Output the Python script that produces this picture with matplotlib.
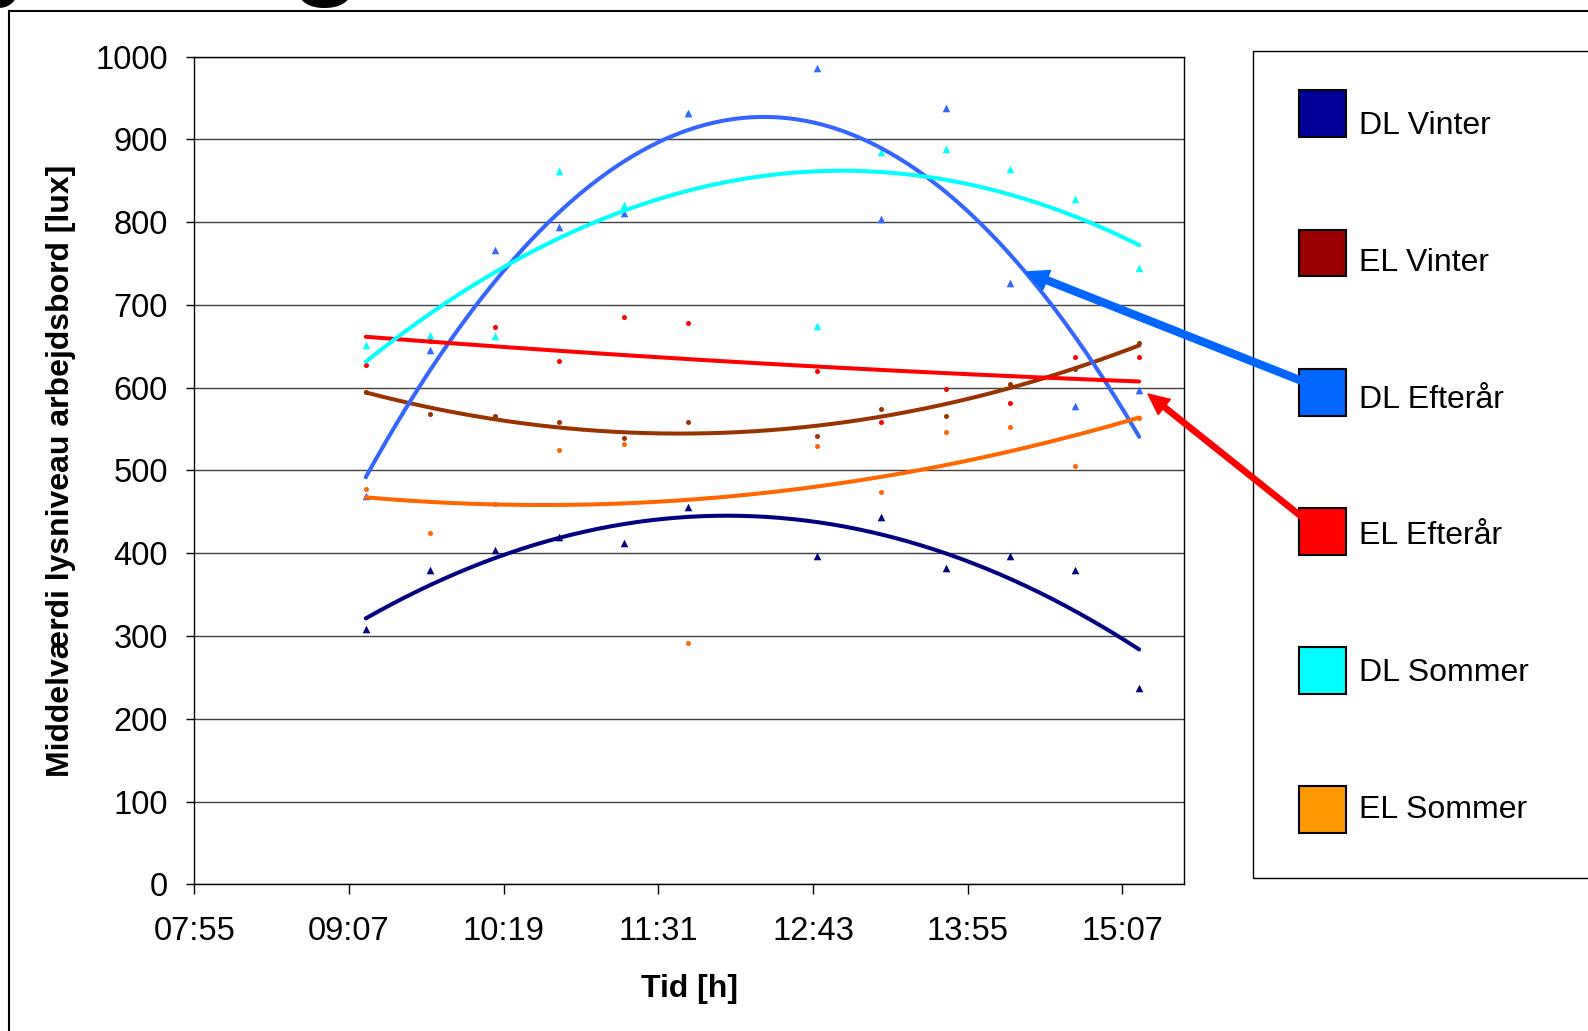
import numpy as np
import matplotlib
matplotlib.use("Agg")
import matplotlib.pyplot as plt
from matplotlib.patches import Rectangle
from matplotlib.lines import Line2D

plt.rcParams['font.family'] = ['Liberation Sans', 'DejaVu Sans']

# measurement times (hh:mm)
times = ["09:15", "09:45", "10:15", "10:45", "11:15", "11:45",
         "12:45", "13:15", "13:45", "14:15", "14:45", "15:15"]

# mean light level on the work table [lux]
dl_vinter = [309, 380, 404, 420, 412, 456, 397, 444, 382, 397, 380, 237]
el_vinter = [595, 568, 566, 558, 539, 559, 542, 574, 566, 605, 623, 654]
dl_efteraar = [469, 645, 767, 794, 811, 932, 986, 804, 938, 726, 578, 597]
el_efteraar = [627, 656, 673, 632, 686, 678, 620, 558, 598, 581, 637, 637]
dl_sommer = [652, 664, 662, 862, 821, 932, 675, 885, 889, 864, 828, 745]
el_sommer = [478, 425, 460, 525, 532, 292, 529, 474, 546, 552, 505, 563]

labels = ["DL Vinter", "EL Vinter", "DL Efterår", "EL Efterår", "DL Sommer", "EL Sommer"]
values = [dl_vinter, el_vinter, dl_efteraar, el_efteraar, dl_sommer, el_sommer]

# x axis in day fractions, like the spreadsheet
x_min_day, x_max_day, x_step_day = 0.33, 0.65, 0.05
xtick_labels = ["07:55", "09:07", "10:19", "11:31", "12:43", "13:55", "15:07"]

# styles
marker_kind = ["^", "o", "^", "o", "^", "o"]
marker_color = ["#000080", "#993300", "#3366FF", "#FF0000", "#00FFFF", "#FF6600"]
trend_color = ["#000080", "#993300", "#3366FF", "#FF0000", "#00FFFF", "#FF6600"]
legend_color = ["#000099", "#990000", "#0066FF", "#FF0000", "#00FFFF", "#FF9900"]
scatter_order = [0, 1, 3, 4, 5, 2]

W, H = 1588, 1031
fig = plt.figure(figsize=(W / 100, H / 100), dpi=100)
ax = fig.add_axes([194.3 / W, 1 - 884.3 / H, 990 / W, 827.6 / H])


def to_min(s):
    h, m = s.split(":")
    return int(h) * 60 + int(m)


t = np.array([to_min(s) for s in times], dtype=float)

for i in scatter_order:
    v = np.array(values[i], dtype=float)
    size = 30 if marker_kind[i] == "^" else 13
    ax.scatter(t, v, marker=marker_kind[i], s=size, color=marker_color[i],
               linewidths=0, zorder=3)

for i in range(len(labels)):
    v = np.array(values[i], dtype=float)
    coef = np.polyfit(t, v, 2)  # polynomial trendline, 2nd order
    tt = np.linspace(t[0], t[-1], 300)
    ax.plot(tt, np.polyval(coef, tt), color=trend_color[i], lw=2.9,
            solid_capstyle='round', zorder=4)

ax.set_xlim(x_min_day * 1440, x_max_day * 1440)
ax.set_ylim(0, 1000)
xt = np.arange(x_min_day, x_max_day - 1e-9, x_step_day)[:len(xtick_labels)] * 1440
ax.set_xticks(xt)
ax.set_xticklabels(xtick_labels)
ax.set_yticks(np.arange(0, 1001, 100))
ax.tick_params(axis='both', labelsize=23.5, direction='out', width=1, color='#000000')
ax.tick_params(axis='y', length=6, pad=13)
ax.tick_params(axis='x', length=7, pad=16)
for sp in ax.spines.values():
    sp.set_color('#000000')
    sp.set_linewidth(1.0)
ax.yaxis.grid(True, color='#404040', lw=1.0)
ax.set_axisbelow(True)

ax.set_xlabel("Tid [h]", fontsize=23, fontweight='bold')
ax.xaxis.label.set_va('center')
ax.xaxis.set_label_coords(0.5, -0.126)
ax.set_ylabel("Middelværdi lysniveau arbejdsbord [lux]", fontsize=23, fontweight='bold')
ax.yaxis.label.set_va('center')
ax.yaxis.set_label_coords(-0.1345, 0.5)

# legend box (cut by the right edge)
fig.patches.append(Rectangle((1253.3 / W, 1 - 878.3 / H), (1700 - 1253.3) / W,
                             (878.3 - 50.7) / H, transform=fig.transFigure,
                             facecolor='white', edgecolor='#000000', lw=1.0, zorder=1))
sq = 46.7
for i, lab in enumerate(labels):
    yc = 113.8 + 139.2 * i
    fig.patches.append(Rectangle((1299.3 / W, 1 - (yc + sq / 2) / H), sq / W, sq / H,
                                 transform=fig.transFigure, facecolor=legend_color[i],
                                 edgecolor='#000000', lw=1.5, zorder=2))
    yb = 134.0 + 136.8 * i
    fig.text(1359 / W, 1 - yb / H, lab, fontsize=23, ha='left', va='baseline',
             zorder=3)

# arrows from legend entries to the autumn curves
fig_ax = fig.add_axes([0, 0, 1, 1], facecolor='none')
fig_ax.set_zorder(10)
fig_ax.set_xlim(0, W)
fig_ax.set_ylim(H, 0)
fig_ax.axis('off')
fig_ax.annotate("", xy=(1026, 272), xytext=(1302, 381),
                arrowprops=dict(facecolor='#0066FF', edgecolor='#0066FF', width=5,
                                headwidth=15, headlength=16, shrink=0))
fig_ax.annotate("", xy=(1148, 394), xytext=(1302, 517),
                arrowprops=dict(facecolor='#FF0000', edgecolor='#FF0000', width=3.8,
                                headwidth=14, headlength=15, shrink=0))

# outer frame of the page and the cut title
fig_ax.add_line(Line2D([9, W + 5], [10.7, 10.7], color='#000000', lw=1.5))
fig_ax.add_line(Line2D([9, 9], [10.7, H + 5], color='#000000', lw=1.5))
fig.text(362 / W, 1 + 17 / H, "Belysning", fontsize=85, fontweight='bold',
         ha='right', va='baseline')

fig.savefig("out.png", dpi=100)
